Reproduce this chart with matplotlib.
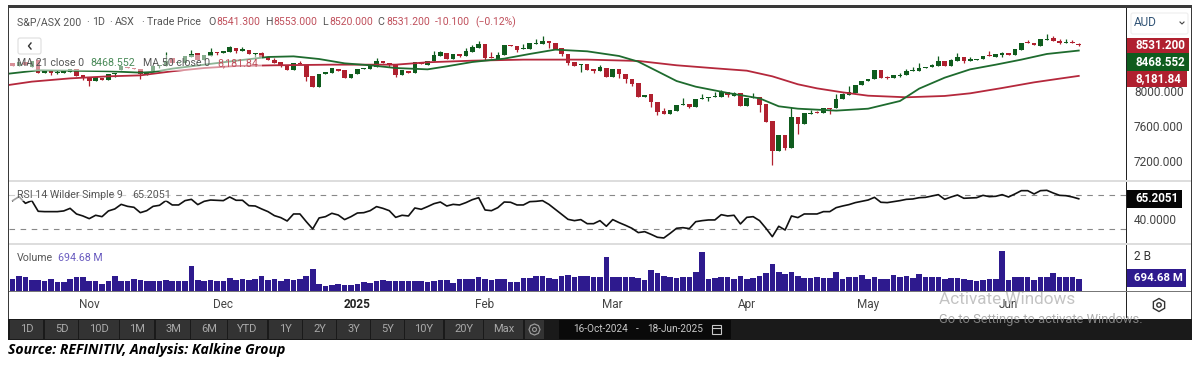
import matplotlib
matplotlib.use("Agg")
import matplotlib.pyplot as plt
from matplotlib.patches import Rectangle, FancyBboxPatch, RegularPolygon, Circle

plt.rcParams['font.family'] = ['Roboto', 'DejaVu Sans']

# Daily candles, 16-Oct-2024 to 18-Jun-2025
opens = [8324, 8294, 8343, 8287, 8362, 8219, 8241, 8219, 8219, 8222,
         8260, 8188, 8166, 8124, 8162, 8136, 8207, 8249, 8286, 8275,
         8264, 8196, 8237, 8294, 8298, 8381, 8324, 8324, 8396, 8437,
         8358, 8411, 8456, 8445, 8456, 8501, 8467, 8479, 8426, 8437,
         8400, 8362, 8336, 8305, 8253, 8332, 8305, 8177, 8060, 8207,
         8219, 8264, 8249, 8162, 8204, 8260, 8264, 8283, 8351, 8332,
         8305, 8188, 8241, 8211, 8339, 8309, 8351, 8411, 8445, 8377,
         8426, 8407, 8456, 8494, 8543, 8392, 8377, 8418, 8535, 8520,
         8486, 8490, 8547, 8547, 8573, 8550, 8494, 8430, 8339, 8305,
         8317, 8256, 8241, 8275, 8170, 8256, 8204, 8147, 8098, 7947,
         7974, 7891, 7781, 7751, 7789, 7857, 7860, 7827, 7921, 7932,
         7947, 7947, 7996, 7958, 7985, 7838, 7928, 7940, 7864, 7668,
         7336, 7514, 7370, 7717, 7638, 7751, 7770, 7762, 7815, 7815,
         7921, 7966, 7992, 8075, 8124, 8147, 8245, 8170, 8154, 8185,
         8192, 8241, 8241, 8271, 8283, 8298, 8354, 8298, 8351, 8392,
         8351, 8366, 8369, 8418, 8400, 8415, 8445, 8418, 8475, 8562,
         8558, 8524, 8592, 8607, 8581, 8558, 8565, 8541.3]
closes = [8294, 8343, 8305, 8351, 8211, 8249, 8219, 8230, 8234, 8260,
          8181, 8166, 8124, 8170, 8132, 8207, 8219, 8298, 8268, 8260,
          8204, 8222, 8290, 8305, 8351, 8324, 8343, 8407, 8426, 8362,
          8418, 8456, 8445, 8467, 8505, 8467, 8486, 8434, 8437, 8392,
          8362, 8332, 8309, 8253, 8332, 8317, 8170, 8060, 8207, 8226,
          8268, 8241, 8162, 8204, 8260, 8275, 8294, 8354, 8328, 8317,
          8192, 8245, 8211, 8339, 8317, 8354, 8418, 8449, 8377, 8426,
          8411, 8467, 8505, 8543, 8385, 8385, 8418, 8532, 8524, 8479,
          8494, 8550, 8554, 8573, 8550, 8483, 8430, 8332, 8298, 8317,
          8249, 8241, 8279, 8166, 8256, 8200, 8143, 8090, 7943, 7970,
          7887, 7774, 7751, 7793, 7853, 7864, 7827, 7921, 7932, 7940,
          7955, 7996, 7966, 7985, 7838, 7936, 7940, 7857, 7661, 7336,
          7514, 7363, 7717, 7638, 7759, 7762, 7759, 7823, 7808, 7925,
          7977, 8004, 8079, 8128, 8151, 8249, 8162, 8162, 8188, 8196,
          8241, 8253, 8275, 8287, 8305, 8354, 8298, 8358, 8392, 8351,
          8377, 8377, 8411, 8407, 8426, 8437, 8422, 8483, 8554, 8550,
          8528, 8599, 8603, 8577, 8558, 8569, 8554, 8531.2]
highs = [8324, 8343, 8343, 8351, 8362, 8249, 8241, 8249, 8234, 8260,
         8260, 8188, 8166, 8170, 8162, 8207, 8219, 8298, 8286, 8275,
         8264, 8222, 8290, 8305, 8456, 8381, 8343, 8407, 8475, 8437,
         8418, 8501, 8456, 8467, 8520, 8501, 8505, 8479, 8437, 8456,
         8400, 8385, 8336, 8305, 8332, 8351, 8305, 8177, 8207, 8226,
         8268, 8264, 8249, 8204, 8260, 8275, 8294, 8388, 8351, 8332,
         8305, 8245, 8241, 8339, 8339, 8354, 8464, 8464, 8445, 8426,
         8426, 8501, 8532, 8581, 8543, 8449, 8449, 8532, 8535, 8520,
         8539, 8550, 8596, 8633, 8573, 8550, 8494, 8430, 8339, 8317,
         8317, 8256, 8302, 8275, 8256, 8256, 8204, 8147, 8098, 7970,
         7974, 7891, 7823, 7793, 7853, 7928, 7860, 7921, 7974, 7940,
         8004, 8023, 7996, 8004, 7985, 7936, 7985, 7940, 7864, 7668,
         7514, 7514, 7827, 7717, 7759, 7796, 7789, 7823, 7815, 7974,
         7992, 8068, 8079, 8128, 8151, 8249, 8245, 8181, 8188, 8215,
         8256, 8287, 8324, 8287, 8317, 8407, 8354, 8377, 8437, 8392,
         8400, 8377, 8411, 8460, 8426, 8452, 8445, 8483, 8554, 8588,
         8558, 8599, 8656, 8633, 8596, 8596, 8584, 8553]
lows = [8294, 8294, 8305, 8287, 8211, 8219, 8192, 8204, 8219, 8222,
        8181, 8136, 8068, 8124, 8132, 8136, 8166, 8249, 8268, 8260,
        8147, 8196, 8237, 8268, 8298, 8324, 8324, 8324, 8396, 8362,
        8358, 8411, 8418, 8445, 8456, 8445, 8467, 8434, 8392, 8392,
        8362, 8332, 8287, 8253, 8253, 8317, 8124, 8060, 8060, 8207,
        8219, 8241, 8162, 8162, 8204, 8260, 8264, 8283, 8328, 8287,
        8170, 8188, 8211, 8211, 8317, 8309, 8351, 8411, 8377, 8377,
        8392, 8407, 8456, 8494, 8362, 8385, 8377, 8418, 8524, 8452,
        8486, 8490, 8547, 8547, 8494, 8483, 8411, 8302, 8298, 8230,
        8249, 8219, 8241, 8166, 8170, 8162, 8105, 8068, 7943, 7947,
        7827, 7740, 7751, 7751, 7789, 7857, 7815, 7827, 7921, 7902,
        7947, 7947, 7947, 7958, 7838, 7838, 7928, 7778, 7661, 7171,
        7336, 7348, 7370, 7525, 7638, 7751, 7759, 7762, 7747, 7815,
        7921, 7966, 7992, 8075, 8124, 8147, 8162, 8151, 8154, 8166,
        8192, 8241, 8241, 8271, 8283, 8298, 8298, 8298, 8351, 8324,
        8351, 8366, 8369, 8407, 8400, 8400, 8422, 8418, 8475, 8550,
        8528, 8524, 8592, 8577, 8547, 8558, 8554, 8520]

# Moving averages, read at a handful of days
ma21_days = [-1, 4, 9, 15, 20, 22, 25, 30, 35, 40, 44, 48, 52, 56, 60, 65, 68, 72, 77, 81,
             85, 90, 95, 98, 101, 104, 107, 112, 117, 120, 123, 129, 134, 139, 142, 146,
             150, 154, 158, 162, 167]
ma21 = [8204, 8245, 8241, 8234, 8219, 8226, 8264, 8309, 8354, 8396, 8403, 8373, 8324, 8302,
        8271, 8256, 8290, 8339, 8377, 8430, 8479, 8460, 8407, 8343, 8234, 8124, 8060, 7989,
        7928, 7838, 7811, 7789, 7811, 7898, 8038, 8162, 8256, 8309, 8366, 8430, 8468.552]
ma50_days = [-1, 3, 9, 15, 20, 25, 30, 35, 41, 50, 60, 65, 72, 80, 90, 98, 104, 110, 115, 119,
             123, 126, 130, 134, 140, 146, 150, 155, 160, 164, 167]
ma50 = [8075, 8117, 8154, 8177, 8188, 8234, 8271, 8294, 8302, 8309, 8309, 8336, 8354, 8366,
        8366, 8351, 8302, 8268, 8241, 8177, 8087, 8041, 7996, 7958, 7940, 7955, 7985, 8045,
        8109, 8151, 8181.84]

rsi = [63.1, 67.7, 60, 63.1, 50.8, 50.4, 50.4, 50.4, 51.2, 54.2,
       47.7, 45.4, 42.3, 46.2, 44.6, 51.2, 53.5, 58.8, 56.5, 55.4,
       49.2, 51.5, 56.5, 57.7, 63.1, 58.1, 58.1, 63.1, 64.6, 58.5,
       62.3, 63.8, 63.5, 63.1, 67.3, 63.5, 63.5, 57.3, 56.9, 53.5,
       50.4, 45.8, 43.5, 39.6, 47.7, 47.7, 38.8, 30.4, 43.1, 44.6,
       48.5, 46.5, 41.2, 44.6, 48.8, 49.2, 51.5, 56.2, 54.2, 51.5,
       43.8, 46.2, 45.4, 54.6, 53.1, 56.2, 59.6, 61.5, 56.9, 58.8,
       58.1, 60.8, 64.2, 66.5, 52.3, 51.5, 55, 61.5, 61.2, 58.1,
       58.1, 61.9, 62.3, 63.1, 58.8, 53.1, 47.3, 41.5, 40, 41.2,
       36.5, 36.5, 40, 33.5, 41.2, 37.7, 34.6, 31.2, 26.2, 27.3,
       24.2, 20.8, 20, 25.4, 31.2, 31.9, 30.8, 38.8, 40, 40.8,
       40.8, 46.9, 45.4, 46.2, 36.2, 43.8, 44.6, 40, 31.2, 21.5,
       33.5, 29.2, 45.4, 43.5, 47.7, 47.7, 47.7, 50.4, 50.4, 55,
       56.9, 58.5, 60.8, 62.3, 63.8, 66.9, 61.2, 60.8, 61.9, 63.1,
       64.6, 65, 66.5, 66.9, 68.5, 70, 64.6, 67.3, 69.6, 65.8,
       66.2, 66.5, 69.2, 67.7, 68.1, 70, 67.3, 70.8, 74.6, 74.6,
       70.8, 74.6, 75, 71.9, 69.2, 68.8, 67.3, 65.2051]

# Volume in millions
volume = [672, 826, 768, 634, 595, 557, 672, 499, 518, 672,
          768, 768, 557, 557, 403, 557, 826, 557, 557, 672,
          614, 576, 557, 557, 595, 576, 557, 576, 1421, 614,
          557, 614, 557, 576, 710, 614, 672, 634, 672, 826,
          634, 672, 557, 672, 634, 672, 845, 1267, 403, 250,
          346, 365, 307, 346, 365, 499, 461, 557, 614, 557,
          557, 557, 557, 557, 557, 518, 557, 614, 614, 461,
          672, 672, 672, 768, 672, 614, 672, 672, 499, 499,
          710, 710, 826, 826, 710, 672, 826, 902, 768, 826,
          826, 768, 768, 1958, 768, 768, 768, 768, 730, 614,
          1171, 1018, 864, 768, 710, 768, 806, 1056, 2208, 672,
          710, 768, 768, 672, 845, 672, 710, 845, 1018, 1517,
          1056, 960, 1075, 845, 710, 710, 768, 710, 710, 1056,
          672, 806, 768, 902, 672, 806, 672, 672, 902, 806,
          845, 710, 941, 768, 806, 806, 672, 710, 710, 672,
          614, 557, 614, 672, 672, 2285, 614, 768, 806, 768,
          614, 806, 768, 1018, 806, 806, 768, 694.68]

month_pos = [12, 33, 54, 74, 94, 115, 134, 156]
month_labels = ['Nov', 'Dec', '2025', 'Feb', 'Mar', 'Apr', 'May', 'Jun']

range_buttons = ['1D', '5D', '10D', '1M', '3M', '6M', 'YTD', '1Y', '2Y', '3Y', '5Y', '10Y', '20Y', 'Max']
button_edges = [(10, 43), (45, 78), (79, 119), (120, 154), (156, 190), (191, 227), (228, 267),
                (269, 302), (303, 336), (337, 370), (371, 404), (405, 443), (445, 483), (484, 523)]

GREEN = '#0f5c1e'
RED = '#b0202f'
PURPLE = '#2e1a8e'
W, H = 1193, 367

fig = plt.figure(figsize=(W / 100, H / 100), dpi=100, facecolor='white')


def panel(left, top, right, bottom):
    # axes placed by pixel edges
    a = fig.add_axes([left / W, 1 - bottom / H, (right - left) / W, (bottom - top) / H])
    for s in a.spines.values():
        s.set_visible(False)
    a.set_yticks([])
    a.set_xticks([])
    a.set_xlim(-0.65, 174.4)
    return a


# Price panel
ax = panel(8.5, 8, 1126, 181)
ax.set_ylim(6993, 8950)
days = list(range(len(closes)))
colors = [GREEN if c >= o else RED for o, c in zip(opens, closes)]
ax.vlines(days, lows, highs, colors=colors, linewidth=0.9)
ax.bar(days, [abs(c - o) for o, c in zip(opens, closes)], bottom=[min(o, c) for o, c in zip(opens, closes)],
       width=0.72, color=colors)
ax.plot(ma50_days, ma50, color='#b5283c', linewidth=1.3)
ax.plot(ma21_days, ma21, color='#1e6b2e', linewidth=1.3)

# RSI panel
ax_rsi = panel(8.5, 182, 1126, 243)
ax_rsi.set_ylim(14.2, 84.6)
ax_rsi.axhline(70, color='#888888', linewidth=0.8, dashes=(5, 5))
ax_rsi.axhline(30, color='#888888', linewidth=0.8, dashes=(5, 5))
ax_rsi.plot(days, rsi, color='#111111', linewidth=1.2)

# Volume panel
ax_vol = panel(8.5, 245, 1126, 290.7)
ax_vol.set_ylim(0, 2630)
ax_vol.bar(days, volume, width=0.88, color=PURPLE)
ax_vol.set_xticks(month_pos)
ax_vol.set_xticklabels(month_labels, fontsize=8.5, color='#444444')
ax_vol.tick_params(axis='x', length=0, pad=5)
ax_vol.get_xticklabels()[2].set_fontweight('bold')
ax_vol.get_xticklabels()[2].set_color('#222222')

# Everything around the plots, drawn in pixel coordinates
ov = fig.add_axes([0, 0, 1, 1], facecolor='none')
ov.set_xlim(0, W)
ov.set_ylim(H, 0)
ov.axis('off')


def box(x0, y0, x1, y1, color, **kw):
    ov.add_patch(Rectangle((x0, y0), x1 - x0, y1 - y0, facecolor=color, edgecolor='none', **kw))


def label(x, y, s, color='#444444', size=7.7, **kw):
    ov.text(x, y, s, color=color, fontsize=size, va='center', **kw)


# faded strip under the legend
box(10, 55, 262, 71, 'white', alpha=0.5)
box(10, 188, 172, 201, 'white', alpha=0.6)

# frame
box(8, 5, 1192, 8, '#3a3a3a')
box(8, 8, 9, 319, '#3a3a3a')
box(1191, 8, 1192, 319, '#3a3a3a')
box(1126, 8, 1127, 318, '#222222')
box(9, 180, 1191, 182, '#dddddd')
box(9, 243, 1191, 245, '#dddddd')
box(9, 290.5, 1191, 291.5, '#777777')

# header
label(17, 22, 'S&P/ASX 200', '#555555')
label(86, 22, '·', '#555555')
label(92, 22, '1D', '#555555')
label(109, 22, '·', '#555555')
label(115, 22, 'ASX', '#555555')
label(141, 22, '·', '#555555')
label(147, 22, 'Trade Price', '#555555')
for x, s in [(208, 'O'), (265, 'H'), (322, 'L'), (377, 'C')]:
    label(x, 22, s, '#555555')
for x, s in [(216, '8541.300'), (273, '8553.000'), (329, '8520.000'), (386, '8531.200'),
             (435, '-10.100'), (475, '(−0.12%)')]:
    label(x, 22, s, '#c0505c', 7.5)

# back button
ov.add_patch(FancyBboxPatch((18, 38), 23, 16, boxstyle='round,pad=0,rounding_size=2', facecolor='white',
                            edgecolor='#dddddd', linewidth=0.8))
ov.plot([31, 28.5, 31], [43, 46, 49], color='#333333', linewidth=1)

# legends
label(17, 63, 'MA 21 close 0', '#555555')
label(90, 63, '8468.552', '#4a8a58')
label(143, 63, 'MA 50 close 0', '#555555')
label(217, 63, '8,181.84', '#c0505c')
label(17, 195, 'RSI 14 Wilder Simple 9', '#555555')
label(132, 195, '65.2051', '#555555')
label(17, 258, 'Volume', '#555555')
label(58, 258, '694.68 M', '#6a5cc0')

# right axis
ov.add_patch(FancyBboxPatch((1131, 13), 57, 21, boxstyle='round,pad=0,rounding_size=2', facecolor='white',
                            edgecolor='#eeeeee', linewidth=0.8))
label(1134, 23, 'AUD', '#335577', 8.5)
ov.plot([1180, 1182, 1184], [22, 24, 22], color='#444444', linewidth=0.8)
for y0, y1, x1, col, s in [(38, 53, 1189, RED, '8531.200'), (53, 71, 1189, GREEN, '8468.552'),
                           (71, 87, 1187, RED, '8,181.84')]:
    box(1127, y0, x1, y1, col)
    label(1135, (y0 + y1) / 2, s, 'white', 8.4, fontweight='bold')
label(1134, 92, '8000.000', size=8.6)
label(1134, 127.5, '7600.000', size=8.6)
label(1134, 163, '7200.000', size=8.6)
box(1127, 190, 1182, 208, '#050505')
label(1135, 199, '65.2051', 'white', 8.4, fontweight='bold')
label(1134, 220.5, '40.0000', size=8.6)
label(1134, 256, '2 B', '#333333', 8.6)
box(1127, 269, 1186, 287, PURPLE)
label(1134, 278, '694.68 M', 'white', 8.2, fontweight='bold')
ov.add_patch(RegularPolygon((1159, 305), 6, radius=6.5, facecolor='white', edgecolor='#333333', linewidth=1))
ov.add_patch(Circle((1159, 305), 2.2, facecolor='white', edgecolor='#333333', linewidth=1))

# toolbar
box(8, 319, 1192, 340, '#1a1a1a')
for s, (x0, x1) in zip(range_buttons, button_edges):
    box(x0, 320, x1, 339, '#333333')
    ov.text((x0 + x1) / 2, 329.5, s, color='#a8a8a8', fontsize=8, ha='center', va='center')
box(525, 320, 544, 339, '#333333')
ov.add_patch(RegularPolygon((534.5, 329.5), 8, radius=5.5, facecolor='none', edgecolor='#999999', linewidth=0.9))
ov.add_patch(Circle((534.5, 329.5), 2, facecolor='none', edgecolor='#999999', linewidth=0.8))
box(559, 320, 731, 339, '#0a0a0a')
ov.text(573, 329.5, '16-Oct-2024', color='#c8c8c8', fontsize=7.2, va='center')
ov.text(636, 329.5, '-', color='#c8c8c8', fontsize=7.2, va='center')
ov.text(647, 329.5, '18-Jun-2025', color='#c8c8c8', fontsize=7.2, va='center')
ov.add_patch(Rectangle((712, 325), 9, 9, facecolor='none', edgecolor='#c8c8c8', linewidth=0.8))
ov.plot([712, 721], [328, 328], color='#c8c8c8', linewidth=0.8)

# watermark and source line
ov.text(939, 300, 'Activate Windows', color='#b5b5b5', fontsize=12.3, va='center', alpha=0.8)
ov.text(939, 320, 'Go to Settings to activate Windows.', color='#999999', fontsize=9.3, va='center', alpha=0.8)
ov.text(8, 350, 'Source: REFINITIV, Analysis: Kalkine Group', color='black', fontsize=10.1, va='center',
        fontweight='bold', fontstyle='italic', family=['Open Sans', 'DejaVu Sans'])

fig.savefig('out.png', dpi=100, facecolor='white')
